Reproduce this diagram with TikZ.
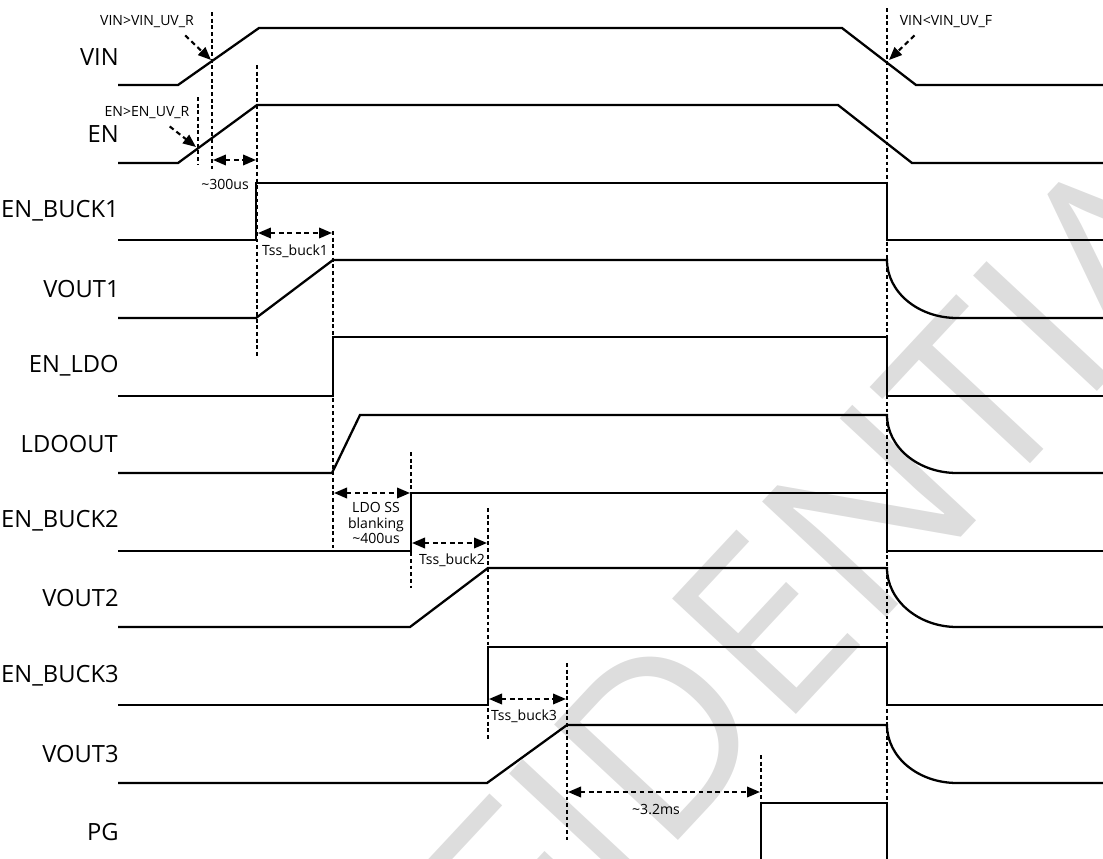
\documentclass[tikz,border=0pt]{standalone}
\usepackage{fontspec}
\setmainfont{Open Sans}
\usetikzlibrary{arrows.meta}
\definecolor{markgray}{RGB}{221,221,221}

\begin{document}
\begin{tikzpicture}[x=0.02cm,y=-0.02cm,
    wave/.style={line width=1.3pt},
    guide/.style={line width=1.1pt,dash pattern=on 2.2pt off 1.6pt},
    span/.style={line width=1.2pt,dash pattern=on 2.8pt off 2pt,{Triangle[length=2.6mm,width=2.1mm]}-{Triangle[length=2.6mm,width=2.1mm]}},
    pointer/.style={line width=1.2pt,dash pattern=on 2.8pt off 2pt,-{Triangle[length=2.6mm,width=2.1mm]}},
    signame/.style={anchor=east,inner sep=0pt,font=\fontsize{13.5}{16}\selectfont},
    note/.style={inner sep=0pt,font=\fontsize{8}{8.8}\selectfont,align=center}]

    \useasboundingbox (0,0) rectangle (1103,859);

    % Watermark
    \node[rotate=47,text=markgray,font=\fontsize{135}{135}\selectfont] (mark) at (688,706) {CONFIDENTIAL};

    % Signal names
    \node[signame] (vin) at (119,57) {VIN};
    \node[signame] (en) at (119,134) {EN};
    \node[signame] (enb1) at (119,211) {EN\_BUCK1};
    \node[signame] (vo1) at (120,289) {VOUT1};
    \node[signame] (enldo) at (119,366) {EN\_LDO};
    \node[signame] (ldoout) at (118,444) {LDOOUT};
    \node[signame] (enb2) at (119,521) {EN\_BUCK2};
    \node[signame] (vo2) at (119,598) {VOUT2};
    \node[signame] (enb3) at (119,676) {EN\_BUCK3};
    \node[signame] (vo3) at (119,754) {VOUT3};
    \node[signame] (pg) at (119,832) {PG};

    % Waveforms
    \draw[wave] (118,85) -- (178,85) -- (259,28) -- (842,28) -- (916,85) -- (1103,85);
    \draw[wave] (118,163) -- (178,163) -- (257,105) -- (838,105) -- (912,163) -- (1103,163);
    \draw[wave] (118,240) -- (256,240) -- (256,183) -- (887,183) -- (887,240) -- (1103,240);
    \draw[wave] (118,318) -- (256,318) -- (333,260) -- (887,260) .. controls (887,292) and (918,318) .. (957,318) -- (1103,318);
    \draw[wave] (118,396) -- (333,396) -- (333,337) -- (887,337) -- (887,396) -- (1103,396);
    \draw[wave] (118,473) -- (332,473) -- (360,415) -- (887,415) .. controls (887,447) and (918,473) .. (957,473) -- (1103,473);
    \draw[wave] (118,551) -- (411,551) -- (411,493) -- (887,493) -- (887,551) -- (1103,551);
    \draw[wave] (118,627) -- (410,627) -- (488,568) -- (887,568) .. controls (887,600) and (918,627) .. (957,627) -- (1103,627);
    \draw[wave] (118,705) -- (488,705) -- (488,647) -- (887,647) -- (887,705) -- (1103,705);
    \draw[wave] (118,783) -- (487,783) -- (567,725) -- (887,725) .. controls (887,757) and (918,783) .. (957,783) -- (1103,783);
    \draw[wave] (761,859) -- (761,803) -- (887,803) -- (887,859);

    % Timing marks
    \draw[guide] (212,12) -- (212,171);
    \draw[guide] (198,97) -- (198,165);
    \draw[guide] (257,65) -- (257,357);
    \draw[guide] (333,231) -- (333,548);
    \draw[guide] (411,452) -- (411,588);
    \draw[guide] (488,508) -- (488,740);
    \draw[guide] (567,663) -- (567,840);
    \draw[guide] (761,755) -- (761,803);
    \draw[guide] (887,8) -- (887,859);

    % Thresholds
    \node[note] (vinr) at (147,22) {VIN>VIN\_UV\_R};
    \coordinate (vinrtip) at (211,60);
    \draw[pointer] ([shift={(-9,7)}]vinr.south east) -- (vinrtip);
    \node[note] (enr) at (147,113) {EN>EN\_UV\_R};
    \coordinate (enrtip) at (196,147);
    \draw[pointer] ([shift={(-20,7)}]enr.south east) -- (enrtip);
    \node[note] (vinf) at (946,22) {VIN<VIN\_UV\_F};
    \coordinate (vinftip) at (889,60);
    \draw[pointer] ([shift={(15,7)}]vinf.south west) -- (vinftip);

    % Delays
    \coordinate (d0a) at (213,160); \coordinate (d0b) at (256,160);
    \draw[span] (d0a) -- (d0b);
    \node[note] (d0) at (225,184) {\textasciitilde300us};
    \coordinate (d1a) at (258,233); \coordinate (d1b) at (332,233);
    \draw[span] (d1a) -- (d1b);
    \node[note] (d1) at (295,251) {Tss\_buck1};
    \coordinate (d2a) at (334,493); \coordinate (d2b) at (410,493);
    \draw[span] (d2a) -- (d2b);
    \node[note] (d2) at (376,523) {LDO SS\\blanking\\\textasciitilde400us};
    \coordinate (d3a) at (412,543); \coordinate (d3b) at (487,543);
    \draw[span] (d3a) -- (d3b);
    \node[note] (d3) at (452,560) {Tss\_buck2};
    \coordinate (d4a) at (489,699); \coordinate (d4b) at (566,699);
    \draw[span] (d4a) -- (d4b);
    \node[note] (d4) at (524,716) {Tss\_buck3};
    \coordinate (d5a) at (568,792); \coordinate (d5b) at (760,792);
    \draw[span] (d5a) -- (d5b);
    \node[note] (d5) at (656,810) {\textasciitilde3.2ms};
\end{tikzpicture}
\end{document}
